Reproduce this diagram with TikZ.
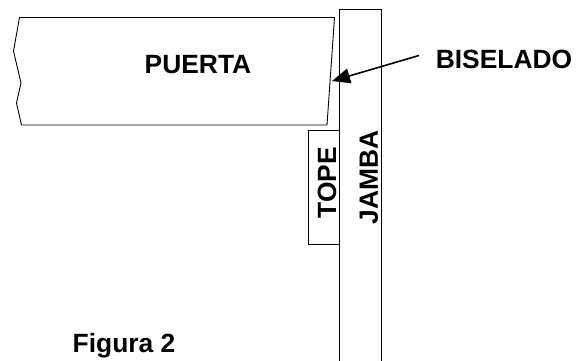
\documentclass[tikz,border=0pt]{standalone}
\usepackage{fontspec}
\setmainfont{Liberation Sans}
\usetikzlibrary{arrows.meta}
\tikzset{
    contorno/.style={draw=black, line width=0.9pt, line join=miter},
    etiqueta/.style={inner sep=0pt, font=\fontsize{26.4}{29}\selectfont\bfseries},
}

\begin{document}
\begin{tikzpicture}[x=1pt,y=-1pt]
    \useasboundingbox (0,0) rectangle (581,360);

    % Puerta
    \draw[contorno] (19.5,17.5) -- (13.5,51) -- (21,83) -- (16.5,103) -- (21.5,125)
        -- (327,125) -- (334.5,17.5) -- cycle;
    \node[etiqueta] (puerta) at (198,64.5) {PUERTA};

    % Jamba y tope
    \draw[contorno] (339.5,365) -- (339.5,9.5) -- (381.5,9.5) -- (381.5,365);
    \draw[contorno] (339.5,130.5) -- (308.5,130.5) -- (308.5,244) -- (339.5,244);
    \node[etiqueta, rotate=90] (tope) at (327,182.5) {TOPE};
    \node[etiqueta, rotate=90] (jamba) at (369,177.5) {JAMBA};

    % Flecha del biselado
    \node[etiqueta] (biselado) at (504,59) {BISELADO};
    \coordinate (inicio) at (419,55.5);
    \coordinate (punta) at (332,81);
    \draw[-{Triangle[length=18pt,width=15pt]}, line width=1.6pt] (inicio) -- (punta);

    % Pie
    \node[etiqueta] (figura) at (124,346) {Figura 2};
\end{tikzpicture}
\end{document}
